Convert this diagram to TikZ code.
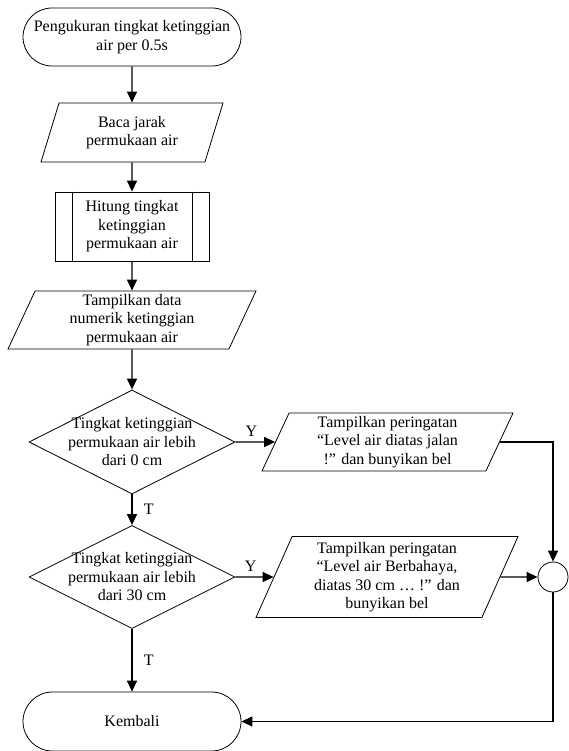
\documentclass[tikz,border=0pt]{standalone}
\usepackage{fontspec}
\setmainfont{Liberation Serif}
\usetikzlibrary{shapes.geometric,arrows.meta}

\tikzset{
  every node/.style={font=\fontsize{16}{18.5}\selectfont},
  term/.style={draw,line width=0.8pt,rounded corners=29pt,minimum width=218pt,minimum height=58pt,align=center},
  io/.style={draw,line width=0.8pt,trapezium,trapezium left angle=64,trapezium right angle=116,
    trapezium stretches body,inner sep=2pt,align=center},
  subproc/.style={draw,line width=0.8pt,minimum width=154pt,minimum height=69pt,align=center,
    path picture={\draw[line width=0.8pt]
      ([xshift=17pt]path picture bounding box.north west) -- ([xshift=17pt]path picture bounding box.south west)
      ([xshift=-17pt]path picture bounding box.north east) -- ([xshift=-17pt]path picture bounding box.south east);}},
  decision/.style={draw,line width=0.8pt,diamond,aspect=2,inner sep=-8pt,align=center},
  junction/.style={draw,circle,line width=0.8pt,minimum size=30pt,inner sep=0pt},
  conn/.style={line width=1.3pt,-{Triangle[length=11pt,width=10pt]}}
}

\begin{document}
\begin{tikzpicture}[x=1pt,y=1pt]
    \useasboundingbox (0,0) rectangle (568,-751);
    % main column
    \node[term] (start) at (132,-37) {Pengukuran tingkat ketinggian\\air per 0.5s};
    \node[io,minimum width=182pt,minimum height=59pt] (baca) at (132,-132.5) {Baca jarak\\permukaan air};
    \node[subproc] (hitung) at (132,-226.5) {Hitung tingkat\\ketinggian\\permukaan air};
    \node[io,minimum width=248pt,minimum height=58pt] (tampil) at (132,-320) {Tampilkan data\\numerik ketinggian\\permukaan air};
    \node[decision,minimum width=206pt,minimum height=104pt] (cek0) at (132,-442) {Tingkat ketinggian\\permukaan air lebih\\dari 0 cm};
    \node[decision,minimum width=206pt,minimum height=103pt] (cek30) at (132,-577) {Tingkat ketinggian\\permukaan air lebih\\dari 30 cm};
    \node[term,minimum height=59pt,rounded corners=29.5pt] (kembali) at (132,-721.5) {Kembali};
    % warnings
    \node[io,minimum width=251pt,minimum height=58pt] (warn0) at (387.5,-442) {Tampilkan peringatan\\“Level air diatas jalan\\!” dan bunyikan bel};
    \node[io,minimum width=262pt,minimum height=81pt] (warn30) at (387,-577) {Tampilkan peringatan\\“Level air Berbahaya,\\diatas 30 cm … !” dan\\bunyikan bel};
    \node[junction] (gabung) at (553,-577) {};

    \draw[conn] (start) -- (baca);
    \draw[conn] (baca) -- (hitung);
    \draw[conn] (hitung) -- (tampil);
    \draw[conn] (tampil) -- (cek0);
    \draw[conn] (cek0.east) -- node[above=2pt,pos=0.4] (y0) {Y} (warn0.west);
    \draw[conn] (cek0.south) -- node[right=8pt] (t0) {T} (cek30.north);
    \draw[conn] (cek30.east) -- node[above=2pt,pos=0.4] (y30) {Y} (warn30.west);
    \draw[conn] (cek30.south) -- node[right=8pt] (t30) {T} (kembali.north);
    \draw[conn] (warn0.east) -| (gabung.north);
    \draw[conn] (warn30.east) -- (gabung.west);
    \draw[conn] (gabung.south) |- (kembali.east);
\end{tikzpicture}
\end{document}
